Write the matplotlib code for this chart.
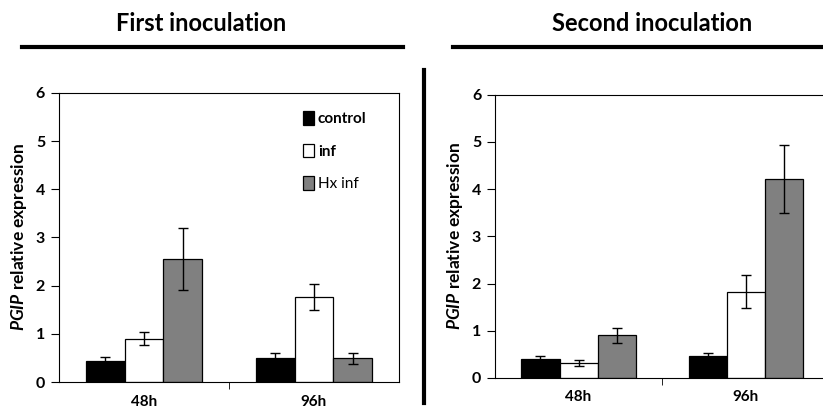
import matplotlib.pyplot as plt
import numpy as np
from matplotlib.lines import Line2D

plt.rcParams['font.family'] = ['Lato', 'DejaVu Sans']
plt.rcParams['mathtext.fontset'] = 'custom'
plt.rcParams['mathtext.bfit'] = 'Lato:italic:bold'

times = ['48h', '96h']
series = ['control', 'inf', 'Hx inf']
colors = ['black', 'white', '#808080']

# first inoculation
first_vals = [[0.44, 0.50], [0.90, 1.76], [2.56, 0.49]]
first_err = [[0.08, 0.10], [0.14, 0.27], [0.64, 0.12]]
# second inoculation
second_vals = [[0.40, 0.46], [0.32, 1.83], [0.90, 4.21]]
second_err = [[0.06, 0.06], [0.07, 0.34], [0.15, 0.72]]


def draw_panel(ax, vals, err, legend=False):
    x = np.arange(len(times))
    w = 0.228
    for i, s in enumerate(series):
        ax.bar(x + (i - 1) * w, vals[i], w, color=colors[i], edgecolor='black',
               linewidth=0.9, label=s,
               yerr=err[i], capsize=3.5, error_kw=dict(elinewidth=1, capthick=1, ecolor='black'))
    ax.set_xlim(-0.5, 1.5)
    ax.set_ylim(0, 6)
    ax.set_yticks(range(0, 7))
    ax.set_xticks(x)
    ax.set_xticklabels(times, fontweight='bold', fontsize=11)
    ax.set_xticks([0.5], minor=True)
    ax.tick_params(axis='x', which='major', length=0, pad=9)
    ax.tick_params(axis='x', which='minor', length=5, direction='out')
    ax.tick_params(axis='y', length=6, direction='out', labelsize=11.5, pad=4)
    for lab in ax.get_yticklabels():
        lab.set_fontweight('bold')
    for sp in ax.spines.values():
        sp.set_linewidth(0.8)
    ax.set_ylabel(r'$\mathbfit{PGIP}$ relative expression', fontweight='bold', fontsize=12.5, labelpad=5)
    if legend:
        handles, labels = ax.get_legend_handles_labels()
        handles = [h.patches[0] if hasattr(h, 'patches') else h for h in handles]
        leg = ax.legend(handles, labels, loc='upper right', frameon=False, fontsize=11,
                        handlelength=0.7, handleheight=1.0, handletextpad=0.25,
                        labelspacing=1.15, bbox_to_anchor=(0.945, 0.985))
        for t in leg.get_texts()[:2]:
            t.set_fontweight('bold')


fig = plt.figure(figsize=(8.23, 4.15), dpi=100)
ax1 = fig.add_axes([0.0717, 0.0795, 0.413, 0.6965])
ax2 = fig.add_axes([0.6015, 0.0892, 0.406, 0.6828])
draw_panel(ax1, first_vals, first_err, legend=True)
draw_panel(ax2, second_vals, second_err)

fig.text(0.244, 0.943, 'First inoculation', ha='center', va='center', fontsize=17, fontweight='bold')
fig.text(0.792, 0.943, 'Second inoculation', ha='center', va='center', fontsize=17, fontweight='bold')
fig.add_artist(Line2D([0.027, 0.49], [0.887, 0.887], color='black', lw=3))
fig.add_artist(Line2D([0.55, 1.0], [0.887, 0.887], color='black', lw=3))
fig.add_artist(Line2D([0.5155, 0.5155], [0.03, 0.831], color='black', lw=3))

fig.savefig('out.png', dpi=100)
